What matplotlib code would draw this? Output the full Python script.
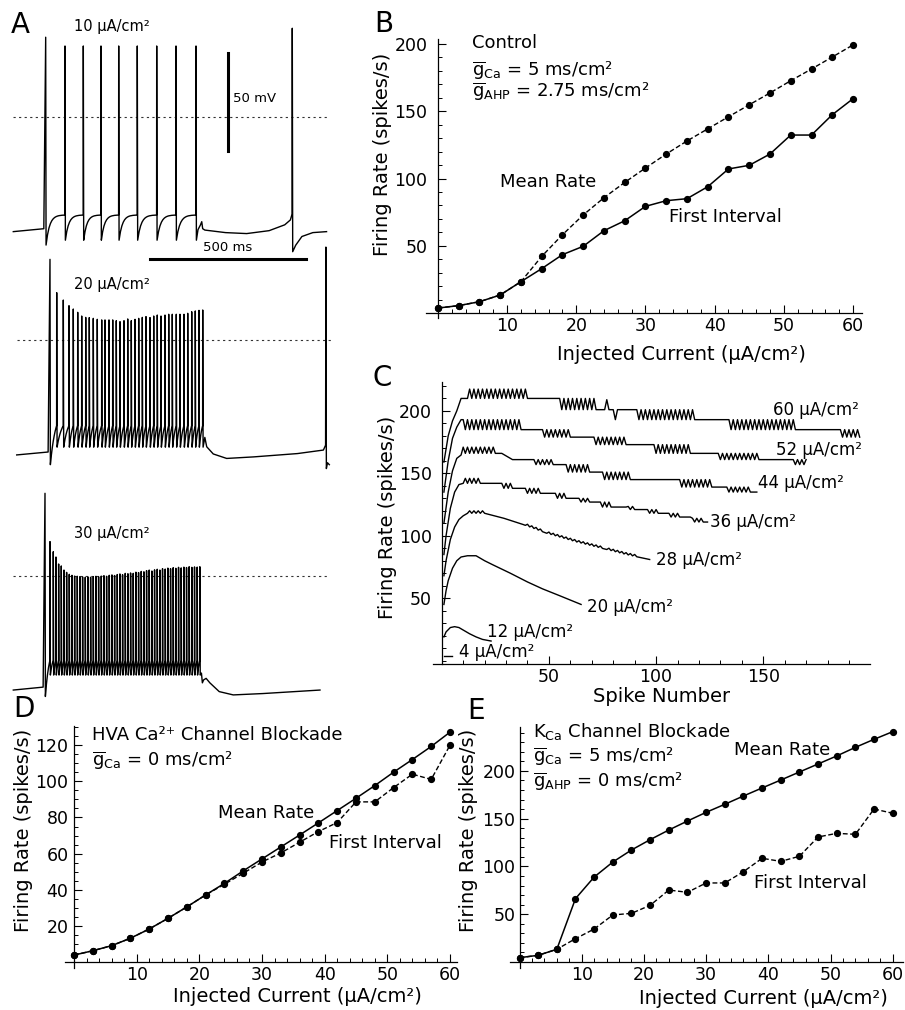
import numpy as np
import matplotlib
matplotlib.use("Agg")
from matplotlib import pyplot as plt

plt.rcParams['font.family'] = ['DejaVu Sans']
plt.rcParams['mathtext.fontset'] = 'dejavusans'

W, H = 905, 1010  # figure size in pixels

# ---------------- data ----------------
current = [0, 3, 6, 9, 12, 15, 18, 21, 24, 27, 30, 33, 36, 39, 42, 45, 48, 51, 54, 57, 60]

# B: control
b_mean = [3.7, 5.5, 8.4, 13.4, 23.3, 42.1, 58.2, 72.9, 85.7, 97.1, 107.8, 118.2, 127.9,
          136.9, 145.9, 154.8, 163.6, 172.7, 181.4, 190.3, 199.3]
b_first = [3.7, 5.5, 8.4, 13.4, 23.3, 33.0, 43.4, 49.6, 61.2, 68.6, 79.3, 83.5, 85.0,
           93.9, 107.1, 109.8, 118.2, 132.3, 132.3, 147.4, 159.3]

# D: HVA Ca2+ channel blockade
d_mean = [4.0, 6.4, 9.2, 13.3, 18.4, 24.3, 30.6, 37.2, 43.6, 50.5, 57.1, 63.7, 70.3,
          77.0, 83.8, 90.6, 97.6, 105.0, 112.0, 119.2, 127.1]
d_first = [4.0, 6.4, 9.2, 13.3, 18.4, 24.3, 30.6, 37.2, 43.1, 49.2, 55.4, 60.4, 66.3,
           72.2, 77.2, 88.6, 88.6, 96.5, 103.9, 101.0, 119.9]

# E: KCa channel blockade
e_mean = [4.5, 7.0, 13.3, 66.3, 88.9, 104.6, 117.2, 128.0, 138.1, 147.5, 156.6, 165.0,
          173.7, 182.1, 190.4, 198.8, 207.2, 215.6, 224.6, 233.0, 241.0]
e_first = [4.5, 7.0, 13.3, 24.4, 34.5, 49.2, 50.9, 59.3, 75.3, 72.9, 82.7, 82.7, 94.5,
           108.5, 105.3, 110.6, 130.8, 134.6, 133.6, 160.1, 155.6]

# C: instantaneous rate vs spike number (knots + alternating zig-zag stretches)
c60_n = [1, 3, 5, 7, 9, 54, 55, 90, 91, 133, 134, 185, 186, 195]
c60_r = [159, 180, 192, 200, 210, 210, 201, 201, 193, 193, 185, 185, 179, 179]
c60_zig = [(13, 40, 7.5), (55, 72, 9), (77, 77, 8), (81, 81, -8), (91, 117, 8),
           (134, 165, 8), (186, 195, 6)]
c52_n = [1, 3, 5, 7, 9, 10, 46, 47, 70, 71, 98, 99, 128, 129, 163, 164, 170]
c52_r = [135, 160, 178, 187, 193, 185, 185, 179, 179, 173, 173, 166, 166, 161, 161, 157, 157]
c52_zig = [(10, 36, 8), (47, 59, 6), (71, 85, 6), (99, 115, 7), (129, 148, 5), (164, 170, 4)]
c44_n = [1, 3, 5, 7, 10, 28, 33, 42, 43, 57, 58, 74, 75, 110, 111, 132, 133, 147]
c44_r = [110, 135, 152, 162, 166, 166, 161, 161, 157, 157, 151, 151, 145, 145, 139, 139, 135, 135]
c44_zig = [(10, 24, 5), (43, 51, 4), (58, 69, 6), (75, 88, 6), (111, 125, 6), (133, 144, 4)]
c36_n = [1, 2, 4, 6, 8, 10, 27, 28, 38, 39, 52, 53, 63, 64, 73, 74, 86, 87, 95, 96,
         105, 106, 116, 117, 124]
c36_r = [85, 100, 122, 135, 141, 142, 142, 138, 138, 134, 134, 130, 130, 127, 127, 123,
         123, 121, 121, 118, 118, 115, 115, 111, 111]
c36_zig = [(11, 18, 4), (28, 32, 4), (39, 45, 4), (53, 57, 4), (64, 68, 3), (74, 79, 4),
           (87, 90, 2.5), (96, 100, 3), (106, 110, 3), (117, 122, 3)]
c28_n = [1, 2, 4, 6, 8, 10, 12, 20, 29, 38, 49, 63, 77, 86, 97]
c28_r = [68, 80, 97, 107, 113, 116, 118, 118, 114, 109, 102, 95, 89, 85, 81]
c28_zig = [(13, 20, 2), (40, 46, 1.5), (50, 75, 1.5), (78, 90, 1.5)]
c20_n = [1, 2, 3, 5, 7, 9, 12, 16, 20, 24, 32, 40, 47, 55, 65]
c20_r = [45, 56, 64, 74, 80, 83, 84, 84, 80, 76.6, 70, 63, 57.5, 52, 45]
c12_n = [1, 2, 4, 6, 8, 10, 13, 16, 19, 23]
c12_r = [19, 23, 26.5, 27.2, 26.5, 24.5, 21.5, 19, 17, 15.7]
c4_n = [1, 5]
c4_r = [4, 4]
c_labels = ['60 μA/cm²', '52 μA/cm²', '44 μA/cm²', '36 μA/cm²',
            '28 μA/cm²', '20 μA/cm²', '12 μA/cm²', '4 μA/cm²']

# A: voltage traces (ms, mV)
a1_spikes = [103.8, 165.7, 224.4, 281.0, 337.8, 397.4, 459.6, 521.5, 585.6]
a1_peaks = [40.8, 36.3, 36.3, 36.3, 36.3, 36.3, 36.3, 36.3, 36.3]
a1_post_t = [592, 600, 604, 607, 614, 680, 748, 820, 870, 888, 893.5, 894.2, 895.5, 905, 925, 960, 1004]
a1_post_v = [-58, -55.5, -53.9, -57.5, -58.2, -59.5, -60, -58.5, -55.5, -53, -50, 45.4, -69.3,
             -66, -61.5, -59.5, -59]

a2_spikes = [106.7, 128.2, 149.4, 167.6, 181.4, 195.5, 208.3, 221.2, 232.7, 245.5, 258.3,
             272.4, 283.0, 295.8, 307.7, 319.2, 331.1, 343.9, 355.8, 367.3, 379.2, 391.0,
             402.6, 414.4, 427.2, 439.1, 450.6, 462.5, 475.3, 487.2, 498.7, 511.5, 523.4,
             536.2, 548.1, 560.9, 572.4, 584.3, 596.2]
a2_peaks = [41.4, 24.3, 20.5, 17.6, 15.9, 14.2, 12.3, 11.6, 11.5, 11.1, 10.6,
            10.3, 10.3, 10.3, 10.3, 9.9, 9.4, 9.9, 10.8, 9.9, 10.6,
            11.1, 11.6, 12.0, 11.5, 12.3, 12.8, 12.3, 12.8, 13.2, 13.2,
            13.2, 13.2, 13.2, 13.7, 14.5, 14.9, 15.2, 15.4]
a2_post_t = [603, 609, 630, 673, 760, 900, 983, 990, 991, 992.5, 996, 1002]
a2_post_v = [-50, -54.8, -58.5, -60.8, -60, -58.3, -56.5, -54, 47.7, -66, -63, -64]

a3_spikes = [101.6, 117.6, 128.2, 136.7, 145.3, 153.8, 162.4, 170.9, 179.4, 188.0, 196.5,
             205.1, 213.6, 222.1, 230.7, 239.2, 247.8, 256.3, 264.8, 273.4, 281.9, 290.5,
             299.0, 307.5, 316.1, 324.6, 333.2, 341.7, 350.2, 358.8, 367.3, 375.9, 384.4,
             392.9, 401.5, 410.0, 418.6, 427.1, 435.6, 444.2, 452.7, 461.3, 469.8, 478.3,
             486.9, 495.4, 504.0, 512.5, 521.0, 529.6, 538.1, 546.7, 555.2, 563.7, 572.3,
             580.8, 589.4, 597.9]
a3_peaks = [42.3, 17.5, 12.3, 9.6, 6.0, 5.0, 2.9, 1.7, 0.7, 0.2,
            -0.2, -0.3, -0.5, -0.6, -0.8, -0.6, -0.8, -0.5, -0.3, -0.6,
            -0.2, 0.0, -0.3, 0.2, 0.4, 0.1, 0.6, 0.9, 0.5, 1.2,
            1.0, 1.4, 1.2, 1.8, 1.6, 2.2, 2.0, 2.6, 2.9, 2.4,
            3.0, 3.3, 2.9, 3.6, 3.4, 3.9, 3.6, 4.1, 3.8, 4.3,
            4.0, 4.4, 4.2, 4.6, 4.3, 4.5, 4.4, 4.6]
a3_post_t = [603, 606, 610, 618, 630, 660, 705, 800, 900, 983]
a3_post_v = [-50, -55, -53.5, -52.7, -55, -59.5, -61.2, -60.5, -59.5, -58.7]


# ---------------- helpers ----------------
def rect(l, t, r, b):
    return [l / W, 1 - b / H, (r - l) / W, (b - t) / H]


def ftext(x, y, s, **kw):
    fig.text(x / W, 1 - y / H, s, **kw)


def zigzag(kn, kr, zigs):
    n = np.arange(kn[0], kn[-1] + 1)
    r = np.interp(n, kn, kr)
    for x0, x1, amp in zigs:
        m = (n >= x0) & (n <= x1)
        r[m] = r[m] + amp * ((n[m] - x0) % 2 == 0)
    return n, r


def build_trace(rest, spikes, peaks, thr, trough0, trough, post_t, post_v, tau_frac):
    t = [0.0, spikes[0] - 6]
    v = [rest, rest + 1.5]
    for i, ts in enumerate(spikes):
        tr = trough0 if i == 0 else trough
        t += [ts, ts + 1.2]
        v += [peaks[i], tr]
        if i + 1 < len(spikes):
            nxt = spikes[i + 1]
            tau = (nxt - ts) * tau_frac
            tt = np.linspace(ts + 1.2, nxt - 0.3, 14)[1:]
            frac = (1 - np.exp(-(tt - ts - 1.2) / tau)) / (1 - np.exp(-(nxt - 0.3 - ts - 1.2) / tau))
            vv = tr + (thr - tr) * frac
            t += list(tt)
            v += list(vv)
    return np.array(t + post_t), np.array(v + post_v)


def setup(ax, xlim, ylim, xmaj, xmin, ymaj, ymin, ypad, xzero=True):
    ax.set_xlim(*xlim)
    ax.set_ylim(*ylim)
    ax.patch.set_visible(False)
    for s in ('top', 'right'):
        ax.spines[s].set_visible(False)
    ax.spines['left'].set_position(('data', 0))
    if xzero:
        ax.spines['bottom'].set_position(('data', 0))
    for s in ('left', 'bottom'):
        ax.spines[s].set_linewidth(0.9)
    ax.set_xticks(xmaj)
    ax.set_xticks(xmin, minor=True)
    ax.set_yticks(ymaj)
    ax.set_yticks(ymin, minor=True)
    ax.tick_params(which='major', direction='in', length=5.5, width=0.8, labelsize=12.5)
    ax.tick_params(which='minor', direction='in', length=3, width=0.7)
    ax.tick_params(axis='y', pad=ypad)
    ax.tick_params(axis='x', pad=3)


def fi_plot(ax, y_solid, y_dash):
    ax.plot(current, y_solid, '-', color='black', lw=1.1, marker='o', ms=4.2, clip_on=False)
    ax.plot(current, y_dash, color='black', lw=1.0, ls=(0, (3.5, 1.8)), marker='o', ms=4.2,
            clip_on=False)


fig = plt.figure(figsize=(W / 100, H / 100), dpi=100)

# ---------------- panel A ----------------
PX_MS, PX_MV = 0.312, 1.948
traces = [
    (13.3, 116.7, 0, 262, build_trace(-59, a1_spikes, a1_peaks, -50.5, -65.9, -63.4,
                                      a1_post_t, a1_post_v, 0.18), 1005),
    (16.7, 340.0, 240, 475, build_trace(-59, a2_spikes, a2_peaks, -44, -64, -55,
                                        a2_post_t, a2_post_v, 0.8), 1014),
    (13.3, 575.7, 470, 705, build_trace(-58.7, a3_spikes, a3_peaks, -43.5, -62, -51,
                                        a3_post_t, a3_post_v, 0.8), 1009),
]
for k, (xs, dash, top, bot, (tt, vv), tend) in enumerate(traces):
    ax = fig.add_axes(rect(0, top, 360, bot))
    ax.set_xlim(-xs / PX_MS, (360 - xs) / PX_MS)
    ax.set_ylim((dash - bot) / PX_MV, dash / PX_MV - top / PX_MV)
    ax.axis('off')
    ax.plot([0, tend], [0, 0], color='#333333', lw=0.8, ls=(0, (2, 3)), clip_on=False)
    ax.plot(tt, vv, color='black', lw=1.0, clip_on=False)
    if k == 0:
        ax.plot([687, 687], [-17.5, 32.5], color='black', lw=2.2)
        ax.plot([438, 938], [-73.2, -73.2], color='black', lw=2.2, clip_on=False)
        ax.text(704, 9.1, '50 mV', fontsize=9.5, ha='left', va='center')
        ax.text(687, -67.4, '500 ms', fontsize=9.5, ha='center', va='center')

ftext(74, 26.7, '10 μA/cm²', fontsize=10.5, ha='left', va='center')
ftext(74, 285, '20 μA/cm²', fontsize=10.5, ha='left', va='center')
ftext(74, 533.3, '30 μA/cm²', fontsize=10.5, ha='left', va='center')

# ---------------- panel B ----------------
axB = fig.add_axes(rect(425.5, 38.6, 862, 318.4))
setup(axB, (-1.8, 61.3), (-4, 204), [10, 20, 30, 40, 50, 60], np.arange(0, 61, 2),
      [50, 100, 150, 200], np.arange(0, 201, 10), 7.5)
fi_plot(axB, b_first, b_mean)
ftext(472, 48.3, 'Control', fontsize=13, va='baseline')
ftext(472, 75, r'$\overline{\mathrm{g}}_{\mathrm{Ca}}$ = 5 ms/cm²', fontsize=13, va='baseline')
ftext(472, 96.7, r'$\overline{\mathrm{g}}_{\mathrm{AHP}}$ = 2.75 ms/cm²', fontsize=13, va='baseline')
ftext(548, 182, 'Mean Rate', fontsize=13, ha='center', va='center')
ftext(725, 217.5, 'First Interval', fontsize=13, ha='center', va='center')
ftext(681, 355, 'Injected Current (μA/cm²)', fontsize=14, ha='center', va='center')
ftext(382, 154, 'Firing Rate (spikes/s)', fontsize=14, ha='center', va='center', rotation=90)

# ---------------- panel C ----------------
axC = fig.add_axes(rect(433.2, 381.7, 870.4, 664))
setup(axC, (-4, 200), (-2.7, 223.4), [50, 100, 150], np.arange(0, 200, 10),
      [50, 100, 150, 200], np.arange(0, 221, 10), 7, xzero=False)
curves = [zigzag(c60_n, c60_r, c60_zig), zigzag(c52_n, c52_r, c52_zig),
          zigzag(c44_n, c44_r, c44_zig), zigzag(c36_n, c36_r, c36_zig),
          zigzag(c28_n, c28_r, c28_zig), (c20_n, c20_r), (c12_n, c12_r), (c4_n, c4_r)]
label_at = [(154.7, 200.7), (156, 168.7), (147.6, 142), (125, 110.8),
            (100, 80.6), (67.6, 43.2), (20.9, 23.2), (8.1, 7.2)]
for (n, r), lab, (lx, ly) in zip(curves, c_labels, label_at):
    axC.plot(n, r, color='black', lw=1.0, clip_on=False)
    axC.text(lx, ly, lab, fontsize=12, ha='left', va='center')
ftext(662, 697, 'Spike Number', fontsize=14, ha='center', va='center')
ftext(387, 517, 'Firing Rate (spikes/s)', fontsize=14, ha='center', va='center', rotation=90)

# ---------------- panel D ----------------
axD = fig.add_axes(rect(65, 726, 456.7, 968.3))
setup(axD, (-1.44, 61.07), (-3.3, 130.5), [10, 20, 30, 40, 50, 60], np.arange(0, 61, 2),
      [20, 40, 60, 80, 100, 120], np.arange(0, 131, 5), 4)
fi_plot(axD, d_mean, d_first)
ftext(91.7, 740, 'HVA Ca²⁺ Channel Blockade', fontsize=13, va='baseline')
ftext(91.7, 765, r'$\overline{\mathrm{g}}_{\mathrm{Ca}}$ = 0 ms/cm²', fontsize=13, va='baseline')
ftext(266, 813, 'Mean Rate', fontsize=13, ha='center', va='center')
ftext(385.3, 843, 'First Interval', fontsize=13, ha='center', va='center')
ftext(297, 996.7, 'Injected Current (μA/cm²)', fontsize=14, ha='center', va='center')
ftext(23.3, 830, 'Firing Rate (spikes/s)', fontsize=14, ha='center', va='center', rotation=90)

# ---------------- panel E ----------------
axE = fig.add_axes(rect(510, 726.7, 903.3, 968.3))
setup(axE, (-1.53, 61.7), (-6.6, 246.2), [10, 20, 30, 40, 50, 60], np.arange(0, 61, 2),
      [50, 100, 150, 200], np.arange(0, 241, 10), 3)
fi_plot(axE, e_mean, e_first)
ftext(532.7, 736.7, r'K$_{\mathrm{Ca}}$ Channel Blockade', fontsize=13, va='baseline')
ftext(532.7, 761.7, r'$\overline{\mathrm{g}}_{\mathrm{Ca}}$ = 5 ms/cm²', fontsize=13, va='baseline')
ftext(532.7, 786.7, r'$\overline{\mathrm{g}}_{\mathrm{AHP}}$ = 0 ms/cm²', fontsize=13, va='baseline')
ftext(781.7, 750, 'Mean Rate', fontsize=13, ha='center', va='center')
ftext(810, 883.3, 'First Interval', fontsize=13, ha='center', va='center')
ftext(763.3, 998, 'Injected Current (μA/cm²)', fontsize=14, ha='center', va='center')
ftext(468, 830, 'Firing Rate (spikes/s)', fontsize=14, ha='center', va='center', rotation=90)

# panel letters
for letter, (x, y) in zip('ABCDE', [(20, 25), (384, 24), (382, 378), (24, 709), (476, 711)]):
    ftext(x, y, letter, fontsize=20, ha='center', va='center')

fig.savefig('out.png', dpi=100)
